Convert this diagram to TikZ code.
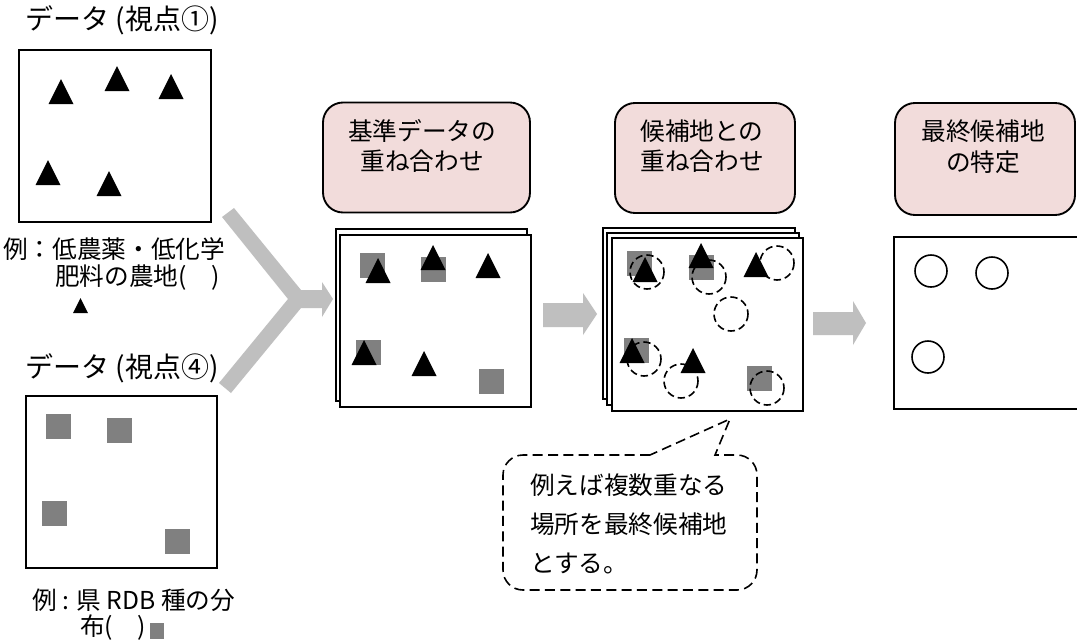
\documentclass[tikz,border=0pt]{standalone}
\usepackage{fontspec}
\setmainfont{Noto Sans CJK JP}
\definecolor{pinkfill}{HTML}{F2DCDB}
\definecolor{sqgray}{HTML}{808080}
\definecolor{arrgray}{HTML}{BFBFBF}
\tikzset{
  frame/.style={draw=black, line width=1.4pt, fill=white},
  pinkbox/.style={draw=black, line width=1.4pt, fill=pinkfill, rounded corners=15pt, inner sep=0pt},
  boxtxt/.style={font=\fontsize{18.5}{23}\selectfont, align=center, inner sep=0pt},
  lbl/.style={font=\fontsize{18.5}{23}\selectfont, inner sep=0pt, anchor=west},
  ttl/.style={font=\fontsize{21}{25}\selectfont, inner sep=0pt},
  blockarrow/.style={fill=arrgray, draw=none},
  candcircle/.style={draw=black, line width=1.2pt, dash pattern=on 5.5pt off 3pt},
  finalcircle/.style={draw=black, line width=1.2pt},
  tri/.pic={\fill[black] (-12.5,0) -- (12.5,0) -- (0,-25) -- cycle;},
  sq/.pic={\fill[sqgray] (0,0) rectangle (25,25);}
}
\begin{document}
\begin{tikzpicture}[x=0.75pt,y=-0.75pt]
\useasboundingbox[fill=white] (0,0) rectangle (1077,643);

% ---------- left: data (viewpoint 1) ----------
\node[ttl] (t1) at (122,20) {データ (視点①)};
\draw[frame] (19,50) rectangle (211,222);
\foreach \x/\y in {61/104,117/91,171/99,48/185,109/196} \pic at (\x,\y) {tri};
\node[lbl] (l1a) at (3,249) {例：低農薬・低化学};
\node[lbl] (l1b) at (55,278) {肥料の農地(　)};
\fill[black] (73,313) -- (88,313) -- (80.5,298) -- cycle;

% ---------- left: data (viewpoint 4) ----------
\node[ttl] (t2) at (122,368) {データ (視点④)};
\draw[frame] (26,396) rectangle (217,568);
\foreach \x/\y in {46/414,107/418,42/501,165/529} \pic at (\x,\y) {sq};
\node[lbl] (l2a) at (32,600) {例 : 県 RDB 種の分};
\node[lbl] (l2b) at (80,628) {布(　)};
\fill[sqgray] (150,623) rectangle (164,639);

% ---------- Y arrow ----------
\fill[blockarrow] (222,217) -- (234,208) -- (301,290) -- (322,290) -- (322,282)
  -- (333,299) -- (322,317) -- (322,308) -- (301,308) -- (231,393) -- (219,383)
  -- (288,299) -- cycle;

% ---------- step 1: overlay of base data ----------
\node[pinkbox, minimum width=155.25pt, minimum height=82.5pt] (pA) at (426.5,157.5) {};
\node[boxtxt] (pAt) at (422,146) {基準データの\\重ね合わせ};
\draw[frame] (336,229) rectangle (527,401);
\draw[frame] (340,235) rectangle (531,407);
\foreach \x/\y in {360/253,421/257,356/340,479/369} \pic at (\x,\y) {sq};
\foreach \x/\y in {378/283,433/270,488/278,364/365,424/376} \pic at (\x,\y) {tri};

\fill[blockarrow] (543,303) -- (583,303) -- (583,293) -- (597,314) -- (583,335)
  -- (583,327) -- (543,327) -- cycle;

% ---------- step 2: overlay with candidate sites ----------
\node[pinkbox, minimum width=135pt, minimum height=82.5pt] (pB) at (705,158) {};
\node[boxtxt] (pBt) at (702,146) {候補地との\\重ね合わせ};
\draw[frame] (603,228) rectangle (795,399);
\draw[frame] (607,233) rectangle (799,405);
\draw[frame] (612,238) rectangle (803,411);
\foreach \x/\y in {627/251,689/255,624/338,747/366} \pic at (\x,\y) {sq};
\foreach \x/\y in {645/282,701/268,756/277,632/363,693/373} \pic at (\x,\y) {tri};
\foreach \x/\y in {647/272,709/277,777/263,731/314,644/359,681/381,767/388}
  \draw[candcircle] (\x,\y) circle[radius=17];

\fill[blockarrow] (813,312) -- (853,312) -- (853,301) -- (866,323) -- (853,345)
  -- (853,335) -- (813,335) -- cycle;

% ---------- step 3: final candidate sites ----------
\node[pinkbox, minimum width=135pt, minimum height=84pt] (pC) at (985,159) {};
\node[boxtxt] (pCt) at (983,147) {最終候補地\\の特定};
\draw[frame] (894,237) rectangle (1082,409);
\foreach \x/\y in {931/271,992/273,928/357}
  \draw[finalcircle] (\x,\y) circle[radius=16];

% ---------- callout ----------
\draw[black, line width=1.2pt, dash pattern=on 7.5pt off 4pt]
  (650,455) -- (523,455) arc[start angle=270, end angle=180, radius=20]
  -- (503,570) arc[start angle=180, end angle=90, radius=20]
  -- (737,590) arc[start angle=90, end angle=0, radius=20]
  -- (757,475) arc[start angle=0, end angle=-90, radius=20]
  -- (715,455) -- (730,419) -- cycle;
\node[lbl, align=left, font=\fontsize{18.5}{29}\selectfont] (ct) at (530,524)
  {例えば複数重なる\\場所を最終候補地\\とする。};
\end{tikzpicture}
\end{document}
